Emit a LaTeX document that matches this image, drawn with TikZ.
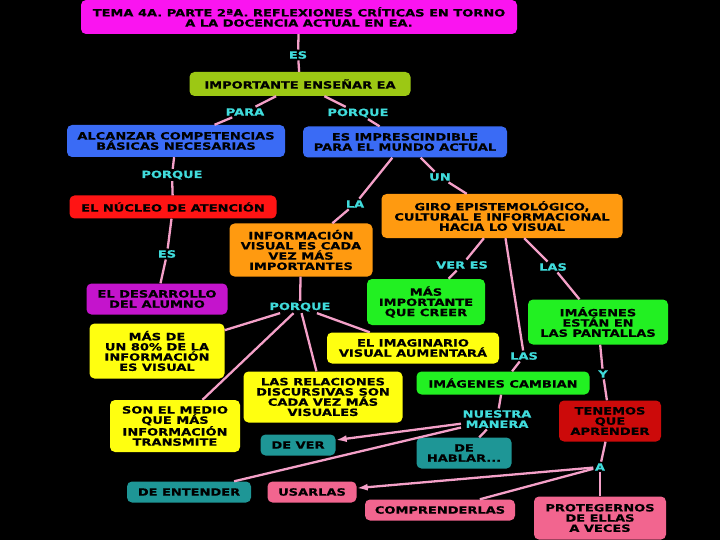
\documentclass[tikz,border=0pt]{standalone}
\usepackage{fontspec}
\usepackage{tikz}
\usetikzlibrary{arrows.meta}
\newfontfamily\mapFont{DejaVu Sans}[FakeStretch=1.3, BoldFeatures={FakeBold=0.6}]
\definecolor{temaColor}{HTML}{FA14F0}
\definecolor{limeColor}{HTML}{9CC814}
\definecolor{blueColor}{HTML}{3A6BF5}
\definecolor{redColor}{HTML}{FF1414}
\definecolor{purpleColor}{HTML}{C414CC}
\definecolor{orangeColor}{HTML}{FF9A10}
\definecolor{yellowColor}{HTML}{FFFF10}
\definecolor{greenColor}{HTML}{22F022}
\definecolor{tealColor}{HTML}{1E9696}
\definecolor{darkRedColor}{HTML}{CC0A0A}
\definecolor{pinkColor}{HTML}{F2658F}
\definecolor{linkColor}{HTML}{40DCDC}
\definecolor{lineColor}{HTML}{F4A0C8}
\tikzstyle{mapCanvas} = [x = 1pt, y = -1pt]
\tikzstyle{conceptStyle} = [rounded corners = 5pt, text=black, align=center, inner sep=2pt, font={\mapFont\bfseries\fontsize{10}{10.2}\selectfont}]
\tikzstyle{linkText} = [text=linkColor, align=center, inner sep=1.5pt, font={\mapFont\bfseries\fontsize{10}{10.2}\selectfont}]
\tikzstyle{linkLine} = [color=lineColor, line width=2.3pt]
\tikzstyle{linkArrow} = [linkLine, -{Latex[length=11pt, width=7pt]}]
\newcommand{\conceptBox}[6]{\node [conceptStyle, fill=#2, minimum width=#4, minimum height=#5] (#1) at (#3) {#6};}
\newcommand{\linkWord}[3]{\node [linkText] (#1) at (#2) {#3};}
\newcommand{\connect}[2]{\draw [linkLine] (#1) -- (#2);}
\newcommand{\connectArrow}[2]{\draw [linkArrow] (#1) -- (#2);}

\begin{document}
\begin{tikzpicture}[mapCanvas]
  \fill [black] (0,0) rectangle (720,540);
  \useasboundingbox (0,0) rectangle (720,540);

  % concepts
  \conceptBox{tema}{temaColor}{299,17}{436}{34}{TEMA 4A. PARTE 2ªA. REFLEXIONES CRÍTICAS EN TORNO\\A LA DOCENCIA ACTUAL EN EA.}
  \conceptBox{importante}{limeColor}{300,84}{221}{24}{IMPORTANTE ENSEÑAR EA}
  \conceptBox{alcanzar}{blueColor}{176,141}{218}{32}{ALCANZAR COMPETENCIAS\\BÁSICAS NECESARIAS}
  \conceptBox{imprescindible}{blueColor}{405,142}{204}{31}{ES IMPRESCINDIBLE\\PARA EL MUNDO ACTUAL}
  \conceptBox{nucleo}{redColor}{173,207}{207}{23}{EL NÚCLEO DE ATENCIÓN}
  \conceptBox{desarrollo}{purpleColor}{157,299}{141}{31}{EL DESARROLLO\\DEL ALUMNO}
  \conceptBox{giro}{orangeColor}{502,216}{241}{44}{GIRO EPISTEMOLÓGICO,\\CULTURAL E INFORMACIONAL\\HACIA LO VISUAL}
  \conceptBox{informacion}{orangeColor}{301,250}{143}{53}{INFORMACIÓN\\VISUAL ES CADA\\VEZ MÁS\\IMPORTANTES}
  \conceptBox{masImportante}{greenColor}{426,302}{118}{46}{MÁS\\IMPORTANTE\\QUE CREER}
  \conceptBox{pantallas}{greenColor}{598,322}{140}{45}{IMÁGENES\\ESTÁN EN\\LAS PANTALLAS}
  \conceptBox{ochenta}{yellowColor}{157,351}{135}{55}{MÁS DE\\UN 80\% DE LA\\INFORMACIÓN\\ES VISUAL}
  \conceptBox{imaginario}{yellowColor}{413,348}{172}{31}{EL IMAGINARIO\\VISUAL AUMENTARÁ}
  \conceptBox{relaciones}{yellowColor}{323,397}{159}{51}{LAS RELACIONES\\DISCURSIVAS SON\\CADA VEZ MÁS\\VISUALES}
  \conceptBox{medio}{yellowColor}{175,426}{130}{52}{SON EL MEDIO\\QUE MÁS\\INFORMACIÓN\\TRANSMITE}
  \conceptBox{cambian}{greenColor}{503,383}{173}{23}{IMÁGENES CAMBIAN}
  \conceptBox{tenemos}{darkRedColor}{610,421}{102}{41}{TENEMOS\\QUE\\APRENDER}
  \conceptBox{deVer}{tealColor}{298,445}{75}{21}{DE VER}
  \conceptBox{deHablar}{tealColor}{464,453}{95}{31}{DE\\HABLAR...}
  \conceptBox{deEntender}{tealColor}{189,492}{124}{21}{DE ENTENDER}
  \conceptBox{usarlas}{pinkColor}{312,492}{89}{21}{USARLAS}
  \conceptBox{comprenderlas}{pinkColor}{440,510}{150}{21}{COMPRENDERLAS}
  \conceptBox{protegernos}{pinkColor}{600,518}{132}{43}{PROTEGERNOS\\DE ELLAS\\A VECES}

  % link words
  \linkWord{esTema}{298,55}{ES}
  \linkWord{para}{245,112}{PARA}
  \linkWord{porqueRight}{358,113}{PORQUE}
  \linkWord{porqueLeft}{172,175}{PORQUE}
  \linkWord{esNucleo}{167,254}{ES}
  \linkWord{la}{355,204}{LA}
  \linkWord{un}{440,177}{UN}
  \linkWord{verEs}{462,265}{VER ES}
  \linkWord{lasRight}{553,267}{LAS}
  \linkWord{porqueMid}{300,307}{PORQUE}
  \linkWord{lasMid}{524,356}{LAS}
  \linkWord{y}{603,374}{Y}
  \linkWord{nuestra}{497,419}{NUESTRA\\MANERA}
  \linkWord{a}{600,467}{A}

  % connectors
  \connect{tema}{esTema}
  \connect{esTema}{importante}
  \connect{importante}{para}
  \connect{para}{alcanzar}
  \connect{importante}{porqueRight}
  \connect{porqueRight}{imprescindible}
  \connect{alcanzar}{porqueLeft}
  \connect{porqueLeft}{nucleo}
  \connect{nucleo}{esNucleo}
  \connect{esNucleo}{desarrollo}
  \connect{imprescindible}{la}
  \connect{la}{informacion}
  \connect{imprescindible}{un}
  \connect{un}{giro}
  \connect{informacion}{porqueMid}
  \connect{porqueMid}{ochenta}
  \connect{porqueMid}{medio}
  \connect{porqueMid}{relaciones}
  \connect{porqueMid}{imaginario}
  \connect{giro}{verEs}
  \connect{verEs}{masImportante}
  \connect{giro}{lasRight}
  \connect{lasRight}{pantallas}
  \connect{giro}{lasMid}
  \connect{lasMid}{cambian}
  \connect{pantallas}{y}
  \connect{y}{tenemos}
  \connect{cambian}{nuestra}
  \connectArrow{nuestra}{deVer}
  \connect{nuestra}{deHablar}
  \connect{nuestra}{deEntender}
  \connect{tenemos}{a}
  \connect{a}{protegernos}
  \connectArrow{a}{usarlas}
  \connect{a}{comprenderlas}
\end{tikzpicture}
\end{document}
